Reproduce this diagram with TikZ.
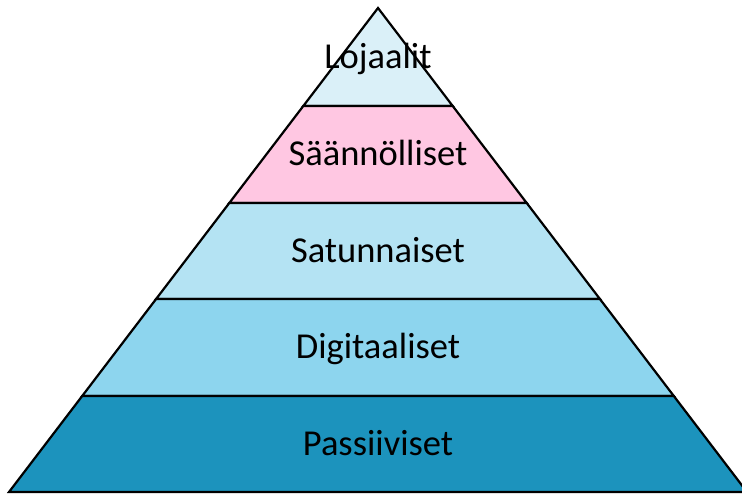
\documentclass[tikz,border=0pt]{standalone}
\usepackage{fontspec}
\setmainfont{Carlito}
\definecolor{loyal}{HTML}{DAF0F8}
\definecolor{regular}{HTML}{FFC7E2}
\definecolor{casual}{HTML}{B4E3F3}
\definecolor{digital}{HTML}{8DD5EE}
\definecolor{passive}{HTML}{1C93BD}
\begin{document}
\begin{tikzpicture}[x=1pt,y=-1pt,
  layer/.style={draw=black,line width=2.2pt,line join=miter},
  label/.style={anchor=base,font=\fontsize{36.5}{36.5}\selectfont,inner sep=0pt}]
\useasboundingbox (0,0) rectangle (742,493);
% corners of the bands, left and right edge of the pyramid
\coordinate (apex) at (378,8);
\coordinate (l1) at (303.3,106); \coordinate (r1) at (452.7,106);
\coordinate (l2) at (229.3,203); \coordinate (r2) at (526.7,203);
\coordinate (l3) at (156.1,299); \coordinate (r3) at (599.9,299);
\coordinate (l4) at (82.2,396);  \coordinate (r4) at (673.8,396);
\coordinate (l5) at (9,492);     \coordinate (r5) at (747,492);
% bands from the top down
\draw[layer,fill=loyal]   (apex) -- (r1) -- (l1) -- cycle;
\draw[layer,fill=regular] (l1) -- (r1) -- (r2) -- (l2) -- cycle;
\draw[layer,fill=casual]  (l2) -- (r2) -- (r3) -- (l3) -- cycle;
\draw[layer,fill=digital] (l3) -- (r3) -- (r4) -- (l4) -- cycle;
\draw[layer,fill=passive] (l4) -- (r4) -- (r5) -- (l5) -- cycle;
% band names
\node[label] (t1) at (378,68)  {Lojaalit};
\node[label] (t2) at (378,165) {Säännölliset};
\node[label] (t3) at (378,262) {Satunnaiset};
\node[label] (t4) at (378,358) {Digitaaliset};
\node[label] (t5) at (378,455) {Passiiviset};
\end{tikzpicture}
\end{document}
